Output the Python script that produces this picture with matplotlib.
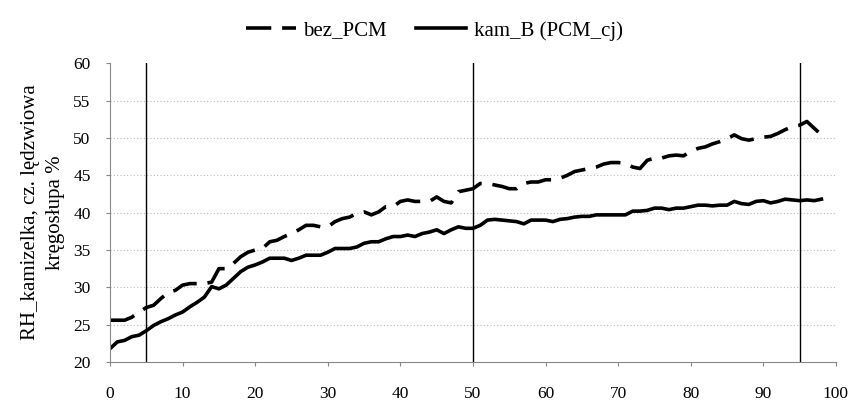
import matplotlib.pyplot as plt

plt.rcParams['font.family'] = ['Liberation Serif', 'DejaVu Serif']

czas = list(range(0, 99))

bez_pcm = [25.6, 25.6, 25.6, 26.0, 26.7, 27.3, 27.6, 28.5, 29.3, 29.6,
           30.3, 30.5, 30.5, 30.5, 30.7, 32.5, 32.5, 33.2, 34.1, 34.7,
           35.0, 35.2, 36.1, 36.3, 36.8, 37.2, 37.7, 38.3, 38.3, 38.1,
           38.1, 38.8, 39.2, 39.4, 39.9, 40.1, 39.7, 40.1, 40.8, 40.8,
           41.5, 41.7, 41.5, 41.5, 41.5, 42.1, 41.5, 41.3, 42.8, 43.0,
           43.2, 43.9, 43.9, 43.7, 43.5, 43.2, 43.2, 43.9, 44.1, 44.1,
           44.4, 44.4, 44.6, 45.0, 45.5, 45.7, 45.9, 46.1, 46.5, 46.7,
           46.7, 46.6, 46.1, 45.9, 47.0, 47.3, 47.3, 47.6, 47.7, 47.6,
           48.2, 48.6, 48.8, 49.2, 49.5, 49.9, 50.4, 49.9, 49.7, 49.9,
           50.1, 50.2, 50.6, 51.1, 51.5, 51.7, 52.2, 51.3, 50.4]

kam_b = [21.8, 22.7, 22.9, 23.4, 23.6, 24.2, 24.9, 25.4, 25.8, 26.3,
         26.7, 27.4, 28.0, 28.7, 30.1, 29.8, 30.3, 31.2, 32.1, 32.7,
         33.0, 33.4, 33.9, 33.9, 33.9, 33.6, 33.9, 34.3, 34.3, 34.3,
         34.7, 35.2, 35.2, 35.2, 35.4, 35.9, 36.1, 36.1, 36.5, 36.8,
         36.8, 37.0, 36.8, 37.2, 37.4, 37.7, 37.2, 37.7, 38.1, 37.9,
         37.9, 38.3, 39.0, 39.1, 39.0, 38.9, 38.8, 38.5, 39.0, 39.0,
         39.0, 38.8, 39.1, 39.2, 39.4, 39.5, 39.5, 39.7, 39.7, 39.7,
         39.7, 39.7, 40.2, 40.2, 40.3, 40.6, 40.6, 40.4, 40.6, 40.6,
         40.8, 41.0, 41.0, 40.9, 41.0, 41.0, 41.5, 41.2, 41.1, 41.5,
         41.6, 41.3, 41.5, 41.8, 41.7, 41.6, 41.7, 41.6, 41.8]

pionowe = [5, 50, 95]

fig = plt.figure(figsize=(8.55, 4.05), dpi=100)
ax = fig.add_axes([0.1287, 0.106, 0.849, 0.738])

ax.plot(czas, bez_pcm, color='black', lw=2.6, ls=(0, (7, 3)), label='bez_PCM')
ax.plot(czas, kam_b, color='black', lw=2.6, label='kam_B (PCM_cj)')

for x in pionowe:
    ax.plot([x, x], [20, 60], color='black', lw=1)

ax.set_xlim(0, 100)
ax.set_ylim(20, 60)
ax.set_xticks(range(0, 101, 10))
ax.set_yticks(range(20, 61, 5))
for y in range(25, 60, 5):
    ax.axhline(y, color='#bbbbbb', lw=0.8, ls=(0, (1, 2)), zorder=0)

for s in ['top', 'right']:
    ax.spines[s].set_visible(False)
ax.spines['left'].set_color('#888888')
ax.spines['bottom'].set_color('#888888')
ax.tick_params(axis='both', labelsize=12.5, color='#888888', length=3)
ax.tick_params(axis='x', pad=14)
ax.tick_params(axis='y', pad=11)

ax.set_ylabel('RH_kamizelka, cz. lędzwiowa\nkręgosłupa %', fontsize=15,
              linespacing=1.4, labelpad=6)

fig.legend(loc='upper center', bbox_to_anchor=(0.508, 0.995), ncol=2,
           frameon=False, fontsize=15, handlelength=2.4, columnspacing=1.4,
           handletextpad=0.35)

fig.savefig('out.png', dpi=100, facecolor='white')
